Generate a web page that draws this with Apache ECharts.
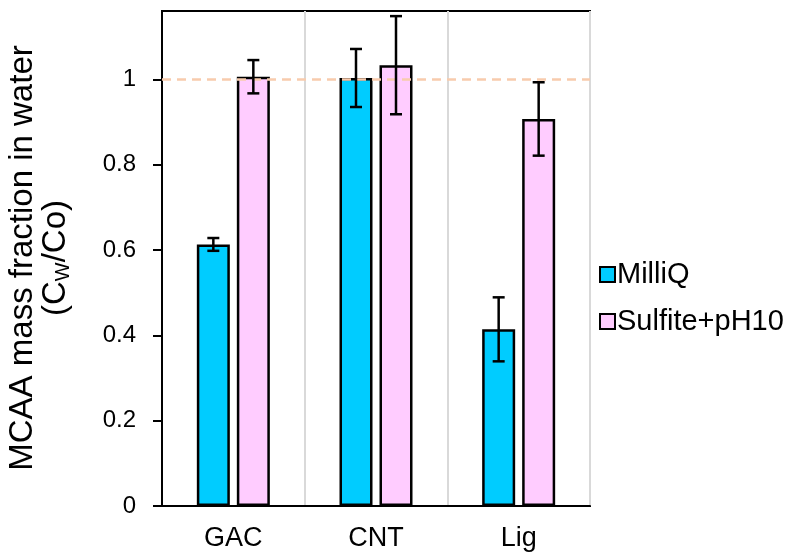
<!DOCTYPE html>
<html>
<head>
<meta charset="utf-8">
<script src="https://cdn.jsdelivr.net/npm/echarts@6/dist/echarts.min.js"></script>
<style>
  html, body { margin: 0; padding: 0; background: #fff; }
  #chart { width: 793px; height: 554px; }
</style>
</head>
<body>
<div id="chart"></div>
<script>
// Sorbent types on the category axis
const categories = ['GAC', 'CNT', 'Lig'];
// MCAA fraction remaining in water (Cw/Co) and standard deviations
const milliQ = [0.613, 1.003, 0.414];
const milliQErr = [0.015, 0.068, 0.075];
const sulfite = [1.006, 1.033, 0.907];
const sulfiteErr = [0.039, 0.115, 0.086];
const seriesNames = ['MilliQ', 'Sulfite+pH10'];
const yTicks = [0, 0.2, 0.4, 0.6, 0.8, 1];
const referenceLevel = 1;

const BAR_W = 33;
const GAP = 7;
const OFFSET = (BAR_W + GAP) / 2;
const FONT = 'Liberation Sans, Arial, sans-serif';

const chart = echarts.init(document.getElementById('chart'), null, { renderer: 'canvas' });

function errorBars(dx) {
  return function (params, api) {
    const i = api.value(0);
    const x = api.coord([i, 0])[0] + dx;
    const yHi = api.coord([i, api.value(2)])[1];
    const yLo = api.coord([i, api.value(1)])[1];
    const cap = 6;
    const st = { stroke: '#000', lineWidth: 2.5 };
    return {
      type: 'group',
      children: [
        { type: 'line', shape: { x1: x, y1: yHi, x2: x, y2: yLo }, style: st },
        { type: 'line', shape: { x1: x - cap, y1: yHi, x2: x + cap, y2: yHi }, style: st },
        { type: 'line', shape: { x1: x - cap, y1: yLo, x2: x + cap, y2: yLo }, style: st }
      ]
    };
  };
}

const errData = (vals, errs) => vals.map((v, i) => [i, v - errs[i], v + errs[i]]);

const option = {
  animation: false,
  backgroundColor: '#fff',
  textStyle: { fontFamily: FONT },
  grid: {
    left: 162, top: 11, right: 203, bottom: 48,
    show: true, borderColor: '#000', borderWidth: 2, backgroundColor: 'transparent'
  },
  legend: {
    data: seriesNames,
    orient: 'vertical',
    left: 594, top: 255,
    itemWidth: 15, itemHeight: 15,
    itemGap: 18,
    icon: 'rect',
    textStyle: { fontSize: 29, color: '#000', fontFamily: FONT, padding: [0, 0, 0, -3] }
  },
  xAxis: {
    type: 'category',
    data: categories,
    axisLine: { lineStyle: { color: '#000', width: 2 } },
    axisTick: { show: false },
    axisLabel: { fontSize: 27, color: '#000', margin: 19 },
    splitLine: { show: true, lineStyle: { color: '#d9d9d9', width: 2 } }
  },
  yAxis: {
    type: 'value',
    min: 0, max: 1.16,
    interval: 0.2,
    axisLine: { show: true, lineStyle: { color: '#000', width: 2 } },
    axisTick: { show: true, length: 9, lineStyle: { color: '#000', width: 2 }, customValues: yTicks },
    axisLabel: { fontSize: 24, color: '#000', margin: 26, customValues: yTicks },
    splitLine: { show: false }
  },
  graphic: [
    {
      type: 'text', x: 23, y: 258, rotation: Math.PI / 2,
      style: {
        text: 'MCAA mass fraction in water',
        fontSize: 33, fill: '#000', fontFamily: FONT,
        align: 'center', verticalAlign: 'middle'
      }
    },
    {
      type: 'text', x: 56, y: 258, rotation: Math.PI / 2,
      style: {
        text: '(C{sub|W}/Co)',
        fontSize: 33, fill: '#000', fontFamily: FONT,
        align: 'center', verticalAlign: 'middle',
        rich: {
          sub: { fontSize: 20, fill: '#000', fontFamily: FONT, padding: [15, 0, 0, 0] }
        }
      }
    }
  ],
  series: [
    {
      name: seriesNames[0],
      type: 'bar',
      data: milliQ,
      barWidth: BAR_W,
      barGap: (GAP / BAR_W * 100) + '%',
      itemStyle: { color: '#00CCFF', borderColor: '#000', borderWidth: 2.5 },
      z: 2
    },
    {
      name: seriesNames[1],
      type: 'bar',
      data: sulfite,
      barWidth: BAR_W,
      itemStyle: { color: '#FFCCFF', borderColor: '#000', borderWidth: 2.5 },
      z: 2,
      markLine: {
        silent: true,
        symbol: 'none',
        label: { show: false },
        lineStyle: { color: '#F8CBAD', type: [9, 6], width: 2.5 },
        data: [{ yAxis: referenceLevel }],
        z: 3
      }
    },
    {
      name: 'err-milliq',
      type: 'custom',
      renderItem: errorBars(-OFFSET),
      data: errData(milliQ, milliQErr),
      encode: { x: 0, y: [1, 2] },
      z: 5
    },
    {
      name: 'err-sulfite',
      type: 'custom',
      renderItem: errorBars(OFFSET),
      data: errData(sulfite, sulfiteErr),
      encode: { x: 0, y: [1, 2] },
      z: 5
    }
  ]
};

chart.setOption(option);
</script>
</body>
</html>
